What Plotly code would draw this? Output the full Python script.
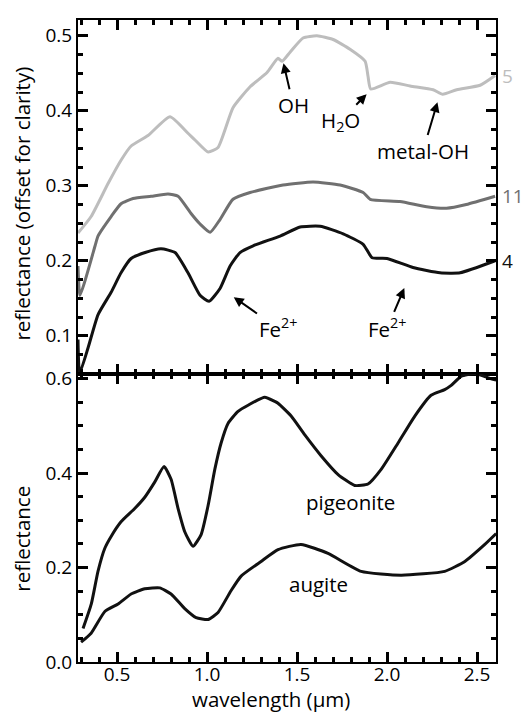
import plotly.graph_objects as go
from plotly.subplots import make_subplots

# ---- top panel: spectra offset for clarity ----
s5_x = [0.283, 0.356, 0.45, 0.522, 0.578, 0.672, 0.794, 0.894, 0.933, 1.006, 1.061, 1.144, 1.239,
        1.333, 1.394, 1.417, 1.461, 1.533, 1.61, 1.7, 1.794, 1.878, 1.894, 1.909, 2.017,
        2.128, 2.256, 2.309, 2.387, 2.517, 2.6]
s5_y = [0.237, 0.259, 0.303, 0.334, 0.353, 0.367, 0.392, 0.370, 0.361, 0.345, 0.351, 0.404, 0.432,
        0.451, 0.470, 0.466, 0.478, 0.497, 0.500, 0.495, 0.482, 0.466, 0.446, 0.429, 0.438,
        0.433, 0.428, 0.422, 0.428, 0.434, 0.447]

s11_x = [0.283, 0.294, 0.378, 0.394, 0.467, 0.522, 0.589, 0.689, 0.783, 0.839, 0.911, 0.961, 1.017,
         1.072, 1.144, 1.239, 1.422, 1.589, 1.739, 1.867, 1.906, 2.072, 2.22, 2.33,
         2.44, 2.6]
s11_y = [0.193, 0.154, 0.220, 0.233, 0.259, 0.276, 0.283, 0.286, 0.289, 0.286, 0.263, 0.249, 0.238,
         0.255, 0.282, 0.291, 0.301, 0.305, 0.301, 0.291, 0.282, 0.279, 0.272, 0.270,
         0.275, 0.286]

s4_x = [0.283, 0.292, 0.339, 0.394, 0.467, 0.522, 0.578, 0.656, 0.744, 0.822, 0.894, 0.961, 1.011,
        1.072, 1.128, 1.183, 1.256, 1.406, 1.517, 1.628, 1.756, 1.867, 1.917, 2.0,
        2.144, 2.294, 2.406, 2.6]
s4_y = [0.095, 0.050, 0.084, 0.128, 0.158, 0.184, 0.203, 0.211, 0.216, 0.211, 0.184, 0.154, 0.146,
        0.163, 0.193, 0.211, 0.220, 0.233, 0.245, 0.246, 0.236, 0.222, 0.204, 0.203,
        0.191, 0.184, 0.184, 0.200]

# ---- bottom panel: pyroxene reference spectra ----
pig_x = [0.311, 0.357, 0.394, 0.432, 0.467, 0.522, 0.598, 0.654, 0.709, 0.761, 0.8, 0.839, 0.876,
         0.922, 0.967, 1.006, 1.043, 1.078, 1.117, 1.172, 1.228, 1.32, 1.376, 1.394, 1.467, 1.543,
         1.633, 1.728, 1.82, 1.894, 1.967, 2.061, 2.154, 2.244, 2.32, 2.356, 2.411, 2.487, 2.578, 2.606]
pig_y = [0.071, 0.123, 0.192, 0.241, 0.266, 0.297, 0.325, 0.349, 0.381, 0.414, 0.387, 0.325, 0.276,
         0.245, 0.270, 0.332, 0.408, 0.464, 0.506, 0.531, 0.544, 0.561, 0.552, 0.548, 0.521, 0.481,
         0.437, 0.397, 0.374, 0.377, 0.408, 0.464, 0.521, 0.565, 0.577, 0.586, 0.605, 0.611, 0.600, 0.597]

aug_x = [0.30, 0.356, 0.432, 0.506, 0.578, 0.654, 0.737, 0.8, 0.876, 0.939, 1.006, 1.061, 1.133,
         1.189, 1.3, 1.394, 1.522, 1.672, 1.856, 2.078, 2.32, 2.432, 2.543, 2.606]
aug_y = [0.042, 0.061, 0.107, 0.123, 0.144, 0.155, 0.157, 0.144, 0.113, 0.094, 0.090, 0.105, 0.151,
         0.182, 0.213, 0.238, 0.249, 0.230, 0.192, 0.184, 0.192, 0.213, 0.249, 0.272]

spec_labels = ["5", "11", "4"]
spec_label_y = [0.447, 0.287, 0.200]
spec_colors = ["#bdbdbd", "#707070", "#111111"]

FONT = "Open Sans"
TICK = 19
TXT = 20.5
fig = make_subplots(rows=2, cols=1, shared_xaxes=True, vertical_spacing=0,
                    row_heights=[359, 292])

for xs, ys, c in [(s5_x, s5_y, spec_colors[0]), (s11_x, s11_y, spec_colors[1]), (s4_x, s4_y, spec_colors[2])]:
    fig.add_trace(go.Scatter(x=xs, y=ys, mode="lines", line=dict(color=c, width=3, shape="spline", smoothing=0.5),
                             showlegend=False, hoverinfo="skip"), row=1, col=1)
for xs, ys in [(pig_x, pig_y), (aug_x, aug_y)]:
    fig.add_trace(go.Scatter(x=xs, y=ys, mode="lines", line=dict(color="#111111", width=3, shape="spline", smoothing=0.5),
                             showlegend=False, hoverinfo="skip"), row=2, col=1)

axis_style = dict(ticks="inside", ticklen=10, tickwidth=3, tickcolor="black",
                  showline=True, linecolor="black", linewidth=2, mirror="ticks", showgrid=False,
                  zeroline=False, tickformat=".1f", layer="above traces",
                  tickfont=dict(family=FONT, size=TICK, color="black"))

fig.update_xaxes(range=[0.283, 2.605], tick0=0.5, dtick=0.5,
                 minor=dict(ticks="inside", ticklen=5, tickwidth=3, tickcolor="black", dtick=0.1, tick0=0.5),
                 **axis_style)
fig.update_xaxes(showticklabels=False, row=1, col=1)
fig.update_xaxes(ticklabelstandoff=-6, row=2, col=1)

fig.update_yaxes(range=[0.049, 0.521], dtick=0.1, tick0=0,
                 minor=dict(ticks="inside", ticklen=5, tickwidth=3, tickcolor="black", dtick=0.025, tick0=0),
                 row=1, col=1, **axis_style)
fig.update_yaxes(range=[0, 0.61], dtick=0.2, tick0=0,
                 minor=dict(ticks="inside", ticklen=5, tickwidth=3, tickcolor="black", dtick=0.05, tick0=0),
                 row=2, col=1, **axis_style)

ann = []
tf = dict(family=FONT, size=TXT, color="black")
ann.append(dict(text="reflectance (offset for clarity)", xref="paper", yref="paper", x=-0.134, y=0.714,
                textangle=-90, showarrow=False, font=tf, xanchor="center", yanchor="middle"))
ann.append(dict(text="reflectance", xref="paper", yref="paper", x=-0.134, y=0.192,
                textangle=-90, showarrow=False, font=tf, xanchor="center", yanchor="middle"))
ann.append(dict(text="wavelength (µm)", xref="paper", yref="paper", x=0.462, y=-0.058,
                showarrow=False, font=tf, xanchor="center", yanchor="middle"))

for lab, yy, c in zip(spec_labels, spec_label_y, spec_colors):
    ann.append(dict(text=lab, xref="paper", yref="y", x=1.010, y=yy, xanchor="left", yanchor="middle",
                    showarrow=False, font=dict(family=FONT, size=TICK, color=c)))

arrows = [
    ("OH", 1.478, 0.408, 1.422, 0.466),
    ("H<sub>2</sub>O", 1.739, 0.386, 1.894, 0.424),
    ("metal-OH", 2.20, 0.347, 2.283, 0.414),
    ("Fe<sup>2+</sup>", 1.394, 0.110, 1.139, 0.153),
    ("Fe<sup>2+</sup>", 2.00, 0.110, 2.10, 0.166),
]
for t, tx, ty, hx, hy in arrows:
    ann.append(dict(text=t, x=hx, y=hy, ax=tx, ay=ty, xref="x", yref="y", axref="x", ayref="y",
                    showarrow=True, arrowhead=2, arrowsize=1, arrowwidth=2, arrowcolor="black",
                    standoff=2, font=tf))

ann.append(dict(text="pigeonite", x=1.794, y=0.338, xref="x2", yref="y2", showarrow=False, font=tf))
ann.append(dict(text="augite", x=1.617, y=0.165, xref="x2", yref="y2", showarrow=False, font=tf))

fig.update_layout(width=523, height=712, margin=dict(l=78, r=27, t=11, b=50),
                  plot_bgcolor="white", paper_bgcolor="white", annotations=ann,
                  font=dict(family=FONT, size=TICK, color="black"))

fig.write_html("out.html")
